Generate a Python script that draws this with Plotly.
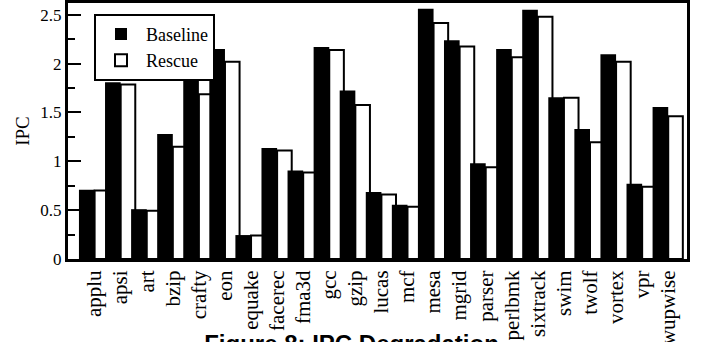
import plotly.graph_objects as go

categories = ["applu", "apsi", "art", "bzip", "crafty", "eon", "equake", "facerec",
              "fma3d", "gcc", "gzip", "lucas", "mcf", "mesa", "mgrid", "parser",
              "perlbmk", "sixtrack", "swim", "twolf", "vortex", "vpr", "wupwise"]
baseline = [0.71, 1.81, 0.51, 1.28, 1.84, 2.15, 0.245, 1.135, 0.905, 2.17, 1.725, 0.685,
            0.555, 2.56, 2.24, 0.98, 2.15, 2.55, 1.655, 1.33, 2.095, 0.77, 1.555]
rescue = [0.70, 1.785, 0.495, 1.15, 1.685, 2.02, 0.24, 1.11, 0.885, 2.14, 1.575, 0.66,
          0.535, 2.415, 2.175, 0.94, 2.065, 2.48, 1.65, 1.195, 2.02, 0.74, 1.46]
y_ticks = [0, 0.5, 1, 1.5, 2, 2.5]
y_tick_labels = ["0", "0.5", "1", "1.5", "2", "2.5"]

xpos = list(range(len(categories)))
serif = "Liberation Serif, Times New Roman, serif"

fig = go.Figure()
fig.add_trace(go.Bar(
    x=xpos, y=rescue, name="Rescue", width=0.56, offset=0,
    marker=dict(color="white", line=dict(color="black", width=2)),
))
fig.add_trace(go.Bar(
    x=xpos, y=baseline, name="Baseline", width=0.6, offset=-0.6,
    marker=dict(color="black", line=dict(color="black", width=0)),
))

fig.update_layout(
    width=703, height=342,
    margin=dict(l=68, r=16, t=3, b=83, autoexpand=False),
    barmode="overlay",
    plot_bgcolor="white", paper_bgcolor="white",
    font=dict(family=serif, color="black"),
    showlegend=True,
    legend=dict(
        x=0.042, y=0.958, xanchor="left", yanchor="top",
        traceorder="reversed",
        bgcolor="white", bordercolor="black", borderwidth=2,
        font=dict(family=serif, size=18, color="black"),
        tracegroupgap=0, itemwidth=40,
    ),
    title=dict(
        text="<b>Figure 8: IPC Degradation</b>",
        font=dict(family="Liberation Sans, Arial, sans-serif", size=24, color="black"),
        x=0.5, xanchor="center", xref="container",
        y=0.02, yanchor="top", yref="container",
    ),
)

fig.update_xaxes(
    automargin=False,
    range=[-1.02, 22.72],
    tickmode="array", tickvals=xpos, ticktext=categories,
    tickangle=-90,
    tickfont=dict(family=serif, size=21, color="black"),
    ticks="", showgrid=False, zeroline=False,
    showline=True, linecolor="black", linewidth=3, mirror=True,
)
fig.update_yaxes(
    automargin=False,
    range=[0, 2.62],
    tickmode="array", tickvals=y_ticks, ticktext=y_tick_labels,
    tickfont=dict(family=serif, size=17, color="black"),
    ticks="inside", ticklen=13, tickwidth=2, tickcolor="black",
    minor=dict(dtick=0.25, ticks="inside", ticklen=7, tickwidth=2, tickcolor="black", showgrid=False),
    showgrid=False, zeroline=False,
    showline=True, linecolor="black", linewidth=3, mirror=True,
    title=dict(text="IPC", font=dict(family=serif, size=19, color="black"), standoff=6),
)

fig.write_html(
    "out.html",
    config={"displayModeBar": False},
    post_script="document.body.style.margin='0';document.body.style.overflow='hidden';",
)
